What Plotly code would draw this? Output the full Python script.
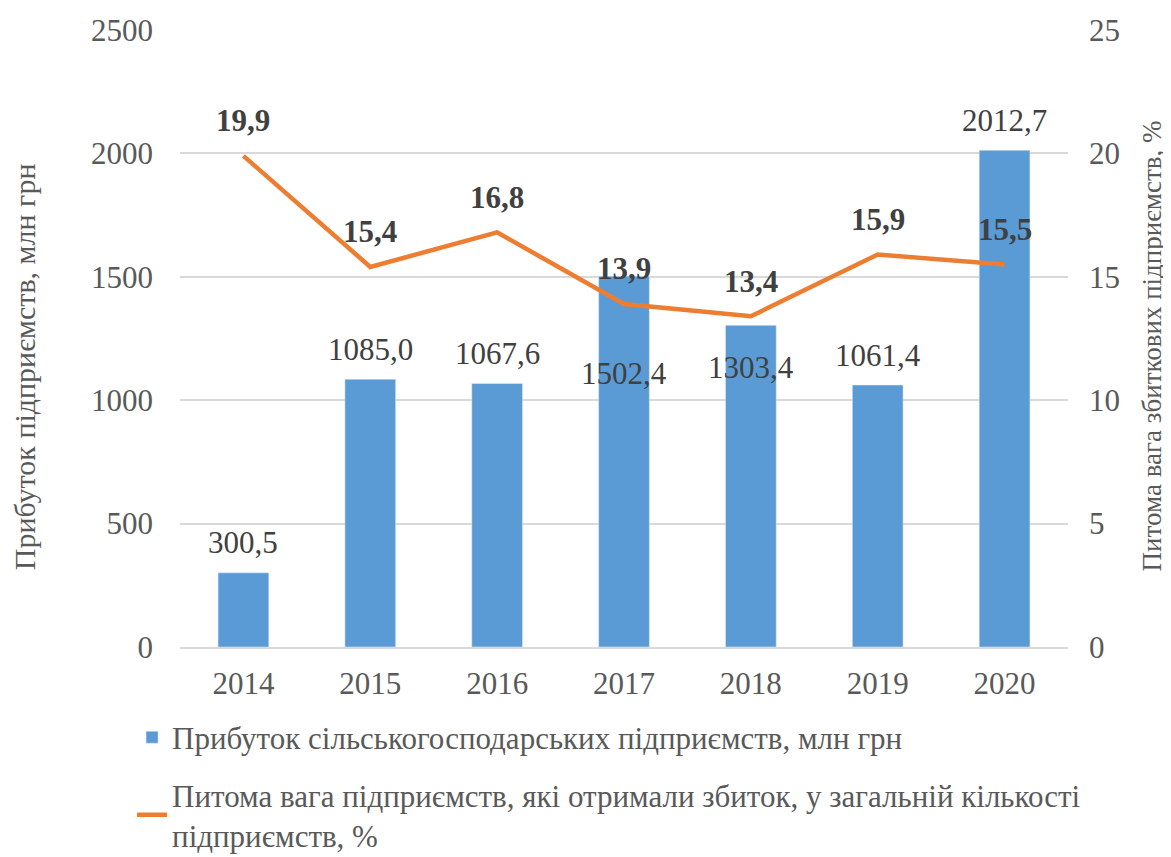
import plotly.graph_objects as go

years = ["2014", "2015", "2016", "2017", "2018", "2019", "2020"]
profit = [300.5, 1085.0, 1067.6, 1502.4, 1303.4, 1061.4, 2012.7]
loss_share = [19.9, 15.4, 16.8, 13.9, 13.4, 15.9, 15.5]

profit_labels = ["300,5", "1085,0", "1067,6", "1502,4", "1303,4", "1061,4", "2012,7"]
share_labels = ["19,9", "15,4", "16,8", "13,9", "13,4", "15,9", "15,5"]

# bar labels moved by the original chart to avoid overlapping the line labels
bar_label_override = {"2017": 1110, "2018": 1134}

name_bar = "Прибуток сільськогосподарських підприємств, млн грн"
name_line = "Питома вага підприємств, які отримали збиток, у загальній кількості<br>підприємств, %"

FONT = "'Liberation Serif', 'DejaVu Serif', serif"
TXT = "#595959"
LAB = "#404040"

fig = go.Figure()
fig.add_trace(go.Bar(
    x=years, y=profit, name=name_bar, marker_color="#5B9BD5",
    width=0.4, yaxis="y", legendgroup="a",
))
fig.add_trace(go.Scatter(
    x=years, y=loss_share, name=name_line, mode="lines",
    line=dict(color="#ED7D31", width=4.5), yaxis="y2", legendgroup="b",
))

annotations = []
for i, (yr, v, t) in enumerate(zip(years, profit, profit_labels)):
    if yr in bar_label_override:
        annotations.append(dict(x=i, y=bar_label_override[yr], xref="x", yref="y",
                                text=t, showarrow=False, yanchor="middle",
                                font=dict(family=FONT, size=31, color=LAB)))
    else:
        annotations.append(dict(x=i, y=v, xref="x", yref="y", text=t,
                                showarrow=False, yanchor="middle", yshift=30,
                                font=dict(family=FONT, size=31, color=LAB)))
for i, (yr, v, t) in enumerate(zip(years, loss_share, share_labels)):
    annotations.append(dict(x=i, y=v, xref="x", yref="y2", text="<b>" + t + "</b>",
                            showarrow=False, yanchor="middle", yshift=35,
                            font=dict(family=FONT, size=31, color=LAB)))

annotations.append(dict(x=-0.1757, y=0.455, xref="paper", yref="paper",
                        text="Прибуток підприємств, млн грн", textangle=-90,
                        showarrow=False, xanchor="center", yanchor="middle",
                        font=dict(family=FONT, size=30, color=TXT)))
annotations.append(dict(x=1.094, y=0.488, xref="paper", yref="paper",
                        text="Питома вага збиткових підприємств, %", textangle=-90,
                        showarrow=False, xanchor="center", yanchor="middle",
                        font=dict(family=FONT, size=27, color=TXT)))

fig.update_layout(
    width=1163, height=849,
    margin=dict(l=172, r=103, t=22, b=210, autoexpand=False),
    paper_bgcolor="white", plot_bgcolor="white",
    font=dict(family=FONT, size=31, color=TXT),
    showlegend=True,
    legend=dict(orientation="v", x=-0.054, y=-0.103, xanchor="left", yanchor="top",
                font=dict(family=FONT, size=31, color=TXT), tracegroupgap=14,
                bgcolor="rgba(0,0,0,0)"),
    xaxis=dict(type="category", range=[-0.5, 6.5], showgrid=False, showline=True,
               linecolor="#d9d9d9", linewidth=1.5, ticks="",
               tickfont=dict(family=FONT, size=31, color=TXT), ticklabelstandoff=8),
    yaxis=dict(range=[0, 2500], dtick=500, showgrid=True, gridcolor="#d9d9d9",
               gridwidth=1.5, zeroline=False, showline=False, ticks="",
               tickfont=dict(family=FONT, size=31, color=TXT), ticklabelstandoff=26),
    yaxis2=dict(range=[0, 25], dtick=5, overlaying="y", side="right", showgrid=False,
                zeroline=False, showline=False, ticks="",
                tickfont=dict(family=FONT, size=31, color=TXT), ticklabelstandoff=20),
    annotations=annotations,
)

fig.write_html("out.html")
